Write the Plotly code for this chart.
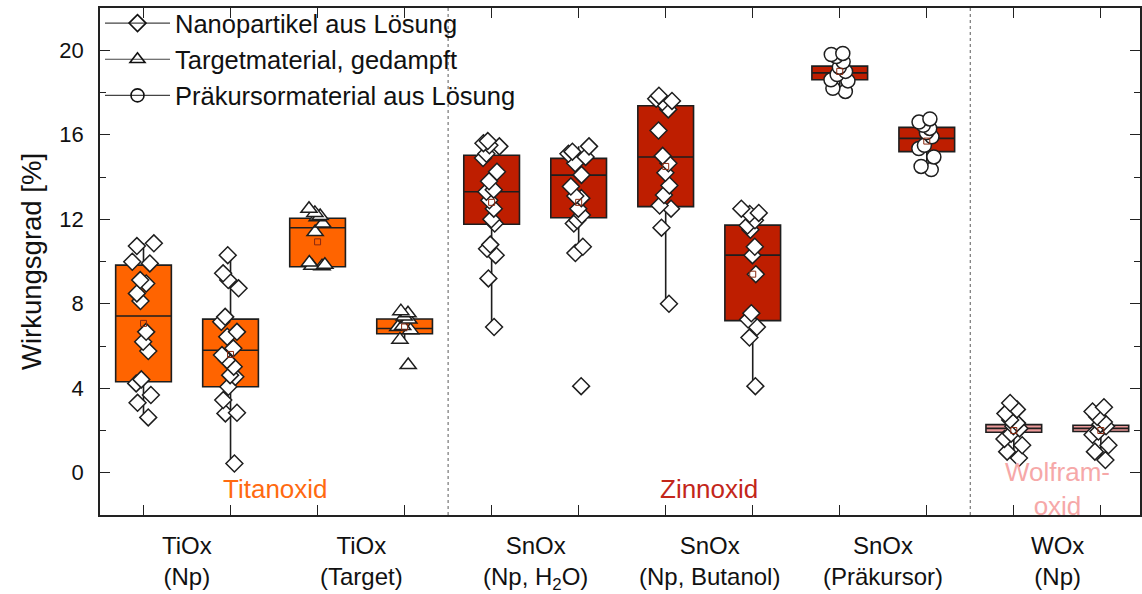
import plotly.graph_objects as go

# --- data -------------------------------------------------------------
positions = [1, 2, 3, 4, 5, 6, 7, 8, 9, 10, 11, 12]

pts_tiox_np_a = [10.86, 10.73, 9.99, 9.91, 9.12, 8.96, 8.49, 8.13, 6.67, 6.20, 5.76, 4.42, 4.23, 3.68, 3.31, 2.62]
pts_tiox_np_b = [10.30, 9.44, 9.12, 8.73, 7.38, 7.15, 6.67, 6.44, 5.89, 5.57, 5.33, 5.02, 4.62, 4.54, 4.07, 3.44, 2.84, 2.81, 0.44]
pts_tiox_tg_a = [12.5, 12.3, 12.15, 12.1, 11.8, 11.4, 9.95, 9.85, 9.8, 9.78]
pts_tiox_tg_b = [7.65, 7.55, 7.4, 7.25, 6.95, 6.9, 6.75, 6.3, 5.1]
pts_snox_h2o_a = [15.7, 15.6, 15.5, 15.45, 15.1, 14.9, 14.25, 13.8, 13.4, 13.3, 12.9, 12.5, 12.0, 11.8, 10.8, 10.6, 10.3, 9.2, 6.9]
pts_snox_h2o_b = [15.45, 15.2, 15.1, 14.95, 14.65, 14.1, 13.55, 13.1, 13.0, 12.5, 12.2, 11.95, 11.8, 10.7, 10.4, 4.1]
pts_snox_but_a = [17.85, 17.7, 17.6, 17.55, 17.2, 16.2, 15.0, 14.65, 14.2, 13.6, 13.15, 12.65, 12.5, 11.6, 8.0]
pts_snox_but_b = [12.5, 12.3, 12.25, 11.95, 11.7, 11.5, 10.7, 10.3, 9.4, 7.55, 7.25, 6.9, 6.4, 4.1]
pts_snox_pk_a = [19.85, 19.8, 19.7, 19.45, 19.2, 19.0, 18.85, 18.6, 18.55, 18.2, 18.05]
pts_snox_pk_b = [16.75, 16.6, 16.45, 16.3, 16.1, 15.9, 15.5, 15.35, 14.95, 14.5, 14.35]
pts_wox_np_a = [3.3, 3.0, 2.8, 2.5, 2.35, 2.2, 2.1, 1.85, 1.6, 1.3, 1.0, 0.7]
pts_wox_np_b = [3.1, 2.9, 2.65, 2.4, 2.3, 2.2, 1.95, 1.8, 1.3, 1.0, 0.6]

samples = [pts_tiox_np_a, pts_tiox_np_b, pts_tiox_tg_a, pts_tiox_tg_b,
           pts_snox_h2o_a, pts_snox_h2o_b, pts_snox_but_a, pts_snox_but_b,
           pts_snox_pk_a, pts_snox_pk_b, pts_wox_np_a, pts_wox_np_b]

# box statistics per position
q1 = [4.31, 4.07, 9.75, 6.58, 11.76, 12.07, 12.6, 7.2, 18.6, 15.2, 1.92, 1.95]
median = [7.42, 5.8, 11.6, 6.83, 13.3, 14.09, 14.95, 10.3, 18.93, 15.83, 2.1, 2.1]
q3 = [9.83, 7.27, 12.05, 7.28, 15.03, 14.88, 17.37, 11.72, 19.25, 16.35, 2.28, 2.25]
lower_whisker = [2.62, 0.44, 9.78, 6.3, 6.9, 10.4, 8.0, 4.1, 18.05, 14.35, 0.7, 0.6]
upper_whisker = [10.86, 10.3, 12.5, 7.65, 15.7, 15.45, 17.85, 12.5, 19.85, 16.75, 3.3, 3.1]
mean = [7.07, 5.6, 10.93, 6.9, 12.8, 12.8, 14.5, 9.4, 19.0, 15.7, 2.0, 2.0]

# oxide family and deposition method for each box
family = ["Ti", "Ti", "Ti", "Ti", "Sn", "Sn", "Sn", "Sn", "Sn", "Sn", "W", "W"]
method = ["np", "np", "target", "target", "np", "np", "np", "np", "prec", "prec", "np", "np"]

group_labels = ["TiOx<br>(Np)", "TiOx<br>(Target)", "SnOx<br>(Np, H<sub>2</sub>O)",
                "SnOx<br>(Np, Butanol)", "SnOx<br>(Präkursor)", "WOx<br>(Np)"]
group_centers = [1.5, 3.5, 5.5, 7.5, 9.5, 11.5]

family_names = ["Titanoxid", "Zinnoxid", "Wolfram-<br>oxid"]
family_centers = [2.52, 7.5, 11.5]

legend_names = ["Nanopartikel aus Lösung", "Targetmaterial, gedampft", "Präkursormaterial aus Lösung"]

# --- styles -----------------------------------------------------------
fill_colors = {"Ti": "#FF6400", "Sn": "#BE1E00", "W": "#EE9A9A"}
text_colors = {"Ti": "#FF6A10", "Sn": "#C3261A", "W": "#F6A8A8"}
symbols = {"np": "diamond", "target": "triangle-up", "prec": "circle"}
sizes = {"np": 13, "target": 14, "prec": 14}
edge = "#1E1E1E"
box_w = 0.64
label_font = "Liberation Sans, Arial, sans-serif"

fig = go.Figure()

# filled boxes with whiskers
for i, x in enumerate(positions):
    fig.add_trace(go.Box(
        x=[x], q1=[q1[i]], median=[median[i]], q3=[q3[i]],
        lowerfence=[lower_whisker[i]], upperfence=[upper_whisker[i]],
        width=box_w, whiskerwidth=0, fillcolor=fill_colors[family[i]],
        line=dict(color=edge, width=1.6), boxpoints=False,
        showlegend=False, hoverinfo="skip",
    ))

# individual measurements, jittered around each box centre
for i, x in enumerate(positions):
    m = method[i]
    fig.add_trace(go.Box(
        x=[x] * len(samples[i]), y=samples[i],
        width=box_w, boxpoints="all", jitter=0.42, pointpos=0,
        fillcolor="rgba(0,0,0,0)", line=dict(color="rgba(0,0,0,0)", width=0),
        marker=dict(symbol=symbols[m], size=sizes[m], color="white",
                    line=dict(color=edge, width=1.5)),
        showlegend=False, hoverinfo="y",
    ))

# mean markers
fig.add_trace(go.Scatter(
    x=positions, y=mean, mode="markers",
    marker=dict(symbol="square-open", size=6, color="#8A2A10", line=dict(width=1)),
    showlegend=False, hoverinfo="y",
))

# legend entries
for name, m in zip(legend_names, ["np", "target", "prec"]):
    fig.add_trace(go.Scatter(
        x=[None], y=[None], mode="lines+markers", name=name,
        line=dict(color="#444444", width=1.2),
        marker=dict(symbol=symbols[m] + "-open", size=13, color="#111111",
                    line=dict(width=1.6)),
    ))

# separators between oxide families
for xs in [4.5, 10.5]:
    fig.add_shape(type="line", xref="x", yref="paper", x0=xs, x1=xs, y0=0, y1=1,
                  line=dict(color="#777777", width=1.2, dash="dot"))

# oxide family captions
for name, xc, fam in zip(family_names, family_centers, ["Ti", "Sn", "W"]):
    fig.add_annotation(x=xc, y=-0.75, xref="x", yref="y", text=name, showarrow=False,
                       font=dict(family=label_font, size=26, color=text_colors[fam]))

# category labels under the axis
for lab, xc in zip(group_labels, group_centers):
    fig.add_annotation(x=xc, y=0, xref="x", yref="paper", yanchor="top", yshift=-15,
                       text=lab, showarrow=False,
                       font=dict(family=label_font, size=24, color="#111111"))

fig.update_layout(
    width=1142, height=594,
    margin=dict(l=100, r=0, t=8, b=79),
    paper_bgcolor="white", plot_bgcolor="white",
    boxmode="overlay",
    font=dict(family=label_font, color="#111111"),
    legend=dict(x=0.0, y=1.016, xanchor="left", yanchor="top", bgcolor="rgba(0,0,0,0)",
                font=dict(size=25.5, color="#111111"), itemwidth=65, tracegroupgap=0),
    showlegend=True,
)

fig.update_xaxes(
    range=[0.5, 12.45], tickvals=positions, showticklabels=False,
    ticks="inside", ticklen=10, tickwidth=1.3, tickcolor="#222222",
    showline=True, linecolor="#222222", linewidth=1.6, mirror="ticks",
    showgrid=False, zeroline=False,
)
fig.update_yaxes(
    range=[-2, 22], tickvals=[0, 4, 8, 12, 16, 20],
    ticks="inside", ticklen=10, tickwidth=1.3, tickcolor="#222222",
    minor=dict(tickvals=[-2, 2, 6, 10, 14, 18, 22], ticks="inside", ticklen=6,
               tickwidth=1.2, tickcolor="#222222"),
    showline=True, linecolor="#222222", linewidth=1.6, mirror="ticks",
    showgrid=False, zeroline=False,
    tickfont=dict(size=22), ticklabelstandoff=10,
    title=dict(text="Wirkungsgrad [%]", font=dict(size=27.5), standoff=10),
)

fig.write_html("out.html")
